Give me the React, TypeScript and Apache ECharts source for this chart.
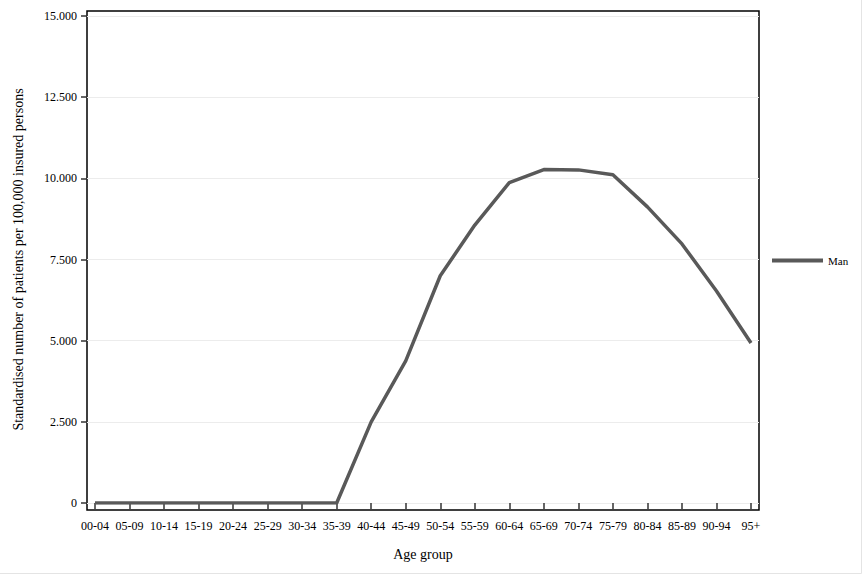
import React, { useEffect, useRef } from "react";
import * as echarts from "echarts";

const categories = [
  "00-04", "05-09", "10-14", "15-19", "20-24", "25-29", "30-34", "35-39", "40-44", "45-49",
  "50-54", "55-59", "60-64", "65-69", "70-74", "75-79", "80-84", "85-89", "90-94", "95+",
];
const manValues = [0, 0, 0, 0, 0, 0, 0, 0, 2500, 4380, 7000, 8560, 9870, 10270, 10260, 10110, 9120, 7980, 6530, 4930];
const yTicks = { min: 0, max: 15000, interval: 2500 };

const fmt = (v: number) => String(v).replace(/\B(?=(\d{3})+(?!\d))/g, ".");
const FONT = "Liberation Serif";

export default function App() {
  const ref = useRef<HTMLDivElement>(null);
  useEffect(() => {
    if (!ref.current) return;
    const chart = echarts.init(ref.current, undefined, { renderer: "svg" });
    chart.setOption({
      animation: false,
      backgroundColor: "#ffffff",
      textStyle: { fontFamily: FONT, color: "#000" },
      grid: [
        { left: 95, right: 113, top: 16, bottom: 73 },
        { left: 87, right: 105, top: 16, bottom: 73 },
      ],
      xAxis: [
        {
          type: "category",
          gridIndex: 0,
          data: categories,
          boundaryGap: false,
          offset: 7,
          axisLine: { show: false },
          axisTick: { show: true, length: 6, lineStyle: { color: "#333", width: 1.5 } },
          axisLabel: { fontFamily: FONT, fontSize: 12, color: "#000", margin: 10, interval: 0 },
          name: "Age group",
          nameLocation: "middle",
          nameGap: 37,
          nameTextStyle: { fontFamily: FONT, fontSize: 14, color: "#000" },
        },
        { type: "value", gridIndex: 1, show: false, min: 0, max: 1 },
      ],
      yAxis: [
        {
          type: "value",
          gridIndex: 0,
          min: yTicks.min,
          max: yTicks.max,
          interval: yTicks.interval,
          offset: 8,
          axisLine: { show: false },
          axisTick: { show: true, length: 6, lineStyle: { color: "#333", width: 1.5 } },
          splitLine: { show: false },
          axisLabel: { fontFamily: FONT, fontSize: 12, color: "#000", margin: 10, formatter: (v: number) => fmt(v) },
          name: "Standardised number of patients per 100,000 insured persons",
          nameLocation: "middle",
          nameGap: 62,
          nameTextStyle: { fontFamily: FONT, fontSize: 14, color: "#000" },
        },
        {
          type: "value",
          gridIndex: 1,
          min: yTicks.min,
          max: yTicks.max,
          interval: yTicks.interval,
          axisLine: { show: false },
          axisTick: { show: false },
          axisLabel: { show: false },
          splitLine: { show: true, lineStyle: { color: "#ececec", width: 1 } },
        },
      ],
      legend: {
        left: 772,
        top: 255,
        padding: 0,
        orient: "vertical",
        icon: "rect",
        itemWidth: 51,
        itemHeight: 4,
        itemGap: 4,
        textStyle: { fontFamily: FONT, fontSize: 11, color: "#000" },
        data: ["Man"],
      },
      series: [
        {
          name: "Man",
          type: "line",
          xAxisIndex: 0,
          yAxisIndex: 0,
          data: manValues,
          symbol: "none",
          itemStyle: { color: "#595959" },
          lineStyle: { color: "#595959", width: 3.5 },
        },
      ],
      graphic: [
        {
          type: "rect",
          shape: { x: 87, y: 11, width: 672, height: 499 },
          style: { fill: "none", stroke: "#000", lineWidth: 1.5 },
          silent: true,
        },
        {
          type: "line",
          shape: { x1: 861.5, y1: 0, x2: 861.5, y2: 573.5 },
          style: { stroke: "#e4e4e4", lineWidth: 1 },
          silent: true,
        },
        {
          type: "line",
          shape: { x1: 0, y1: 573.5, x2: 861.5, y2: 573.5 },
          style: { stroke: "#e4e4e4", lineWidth: 1 },
          silent: true,
        },
      ],
    });
    return () => chart.dispose();
  }, []);
  return <div ref={ref} style={{ position: "fixed", left: 0, top: 0, width: 864, height: 576 }} />;
}
